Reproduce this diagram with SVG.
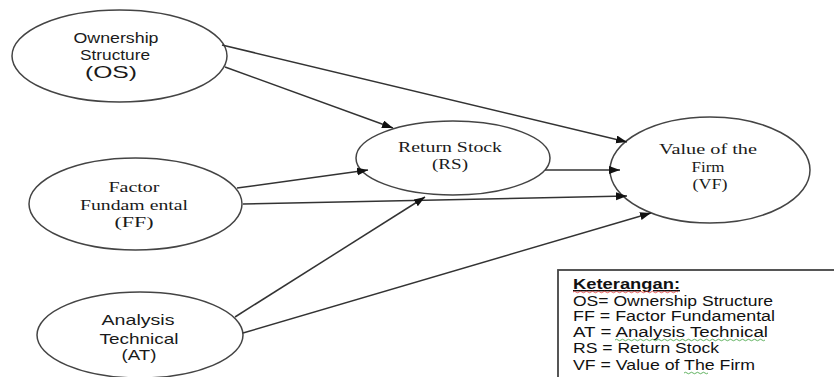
<svg xmlns="http://www.w3.org/2000/svg" width="834" height="377" viewBox="0 0 834 377">
  <style>
    .node { fill: #ffffff; stroke: #444; stroke-width: 1.5; }
    .sans { font-family: "Liberation Sans", Arial, sans-serif; fill: #1a1a1a; }
    .serif { font-family: "Liberation Serif", "Times New Roman", serif; fill: #1a1a1a; }
    .edge { stroke: #333; stroke-width: 1.5; fill: none; marker-end: url(#arrow); }
    .legend { font-family: "Liberation Sans", Arial, sans-serif; fill: #111; font-size: 14px; }
  </style>
  <defs>
    <marker id="arrow" markerUnits="userSpaceOnUse" markerWidth="12" markerHeight="9" refX="11" refY="4" orient="auto">
      <path d="M0,0 L11,4 L0,8 z" fill="#111"/>
    </marker>
  </defs>
  <rect width="834" height="377" fill="#ffffff"/>

  <g id="node-os">
    <ellipse class="node" cx="119.5" cy="56" rx="107.5" ry="46"/>
    <text class="sans" font-size="15" text-anchor="middle" x="116" y="43" textLength="85" lengthAdjust="spacingAndGlyphs">Ownership</text>
    <text class="sans" font-size="15" text-anchor="middle" x="115" y="60" textLength="70" lengthAdjust="spacingAndGlyphs">Structure</text>
    <text class="sans" font-size="17" text-anchor="middle" x="111" y="78" textLength="52" lengthAdjust="spacingAndGlyphs">(OS)</text>
  </g>

  <g id="node-ff">
    <ellipse class="node" cx="135.5" cy="204" rx="106.5" ry="46"/>
    <text class="serif" font-size="15" text-anchor="middle" x="134" y="192" textLength="51" lengthAdjust="spacingAndGlyphs">Factor</text>
    <text class="serif" font-size="15" text-anchor="middle" x="134" y="210" textLength="108" lengthAdjust="spacingAndGlyphs">Fundam ental</text>
    <text class="serif" font-size="15" text-anchor="middle" x="134" y="227" textLength="39" lengthAdjust="spacingAndGlyphs">(FF)</text>
  </g>

  <g id="node-at">
    <ellipse class="node" cx="140" cy="335" rx="103" ry="43"/>
    <text class="sans" font-size="15" text-anchor="middle" x="138" y="325" textLength="73" lengthAdjust="spacingAndGlyphs">Analysis</text>
    <text class="sans" font-size="15" text-anchor="middle" x="139" y="344" textLength="79" lengthAdjust="spacingAndGlyphs">Technical</text>
    <text class="sans" font-size="15" text-anchor="middle" x="139" y="360" textLength="35" lengthAdjust="spacingAndGlyphs">(AT)</text>
  </g>

  <g id="node-rs">
    <ellipse class="node" cx="453" cy="158" rx="97" ry="37"/>
    <text class="serif" font-size="15" text-anchor="middle" x="450" y="152" textLength="104" lengthAdjust="spacingAndGlyphs">Return Stock</text>
    <text class="serif" font-size="15" text-anchor="middle" x="450" y="169" textLength="36" lengthAdjust="spacingAndGlyphs">(RS)</text>
  </g>

  <g id="node-vf">
    <ellipse class="node" cx="710" cy="170" rx="100" ry="53"/>
    <text class="serif" font-size="15" text-anchor="middle" x="708" y="154" textLength="98" lengthAdjust="spacingAndGlyphs">Value of the</text>
    <text class="serif" font-size="15" text-anchor="middle" x="708" y="172" textLength="33" lengthAdjust="spacingAndGlyphs">Firm</text>
    <text class="serif" font-size="15" text-anchor="middle" x="710" y="189" textLength="35" lengthAdjust="spacingAndGlyphs">(VF)</text>
  </g>

  <g id="connectors">
    <path class="edge" d="M222,45 L627,142"/>
    <path class="edge" d="M225,67 L393,128"/>
    <path class="edge" d="M237,188 L368,170"/>
    <path class="edge" d="M243,204 L627,196"/>
    <path class="edge" d="M545,170 L620,170"/>
    <path class="edge" d="M235,317 L425,197"/>
    <path class="edge" d="M243,333 L651,213"/>
  </g>

  <g id="legend">
    <rect x="558" y="270" width="290" height="120" fill="#ffffff" stroke="#444" stroke-width="1.8"/>
    <text class="legend" font-weight="bold" x="573" y="289" textLength="107" lengthAdjust="spacingAndGlyphs" text-decoration="underline">Keterangan:</text>
    <text class="legend" x="573" y="306" textLength="200" lengthAdjust="spacingAndGlyphs">OS= Ownership Structure</text>
    <text class="legend" x="573" y="321" textLength="202" lengthAdjust="spacingAndGlyphs">FF = Factor Fundamental</text>
    <text class="legend" x="573" y="337" textLength="195" lengthAdjust="spacingAndGlyphs">AT = Analysis Technical</text>
    <text class="legend" x="573" y="353" textLength="146" lengthAdjust="spacingAndGlyphs">RS = Return Stock</text>
    <text class="legend" x="573" y="370" textLength="182" lengthAdjust="spacingAndGlyphs">VF = Value of The Firm</text>
    <path d="M573,292 q1.5,-1.5 3,0 t3,0 t3,0 t3,0 t3,0 t3,0 t3,0 t3,0 t3,0 t3,0 t3,0 t3,0 t3,0 t3,0 t3,0 t3,0 t3,0 t3,0 t3,0 t3,0 t3,0 t3,0 t3,0 t3,0 t3,0 t3,0 t3,0 t3,0 t3,0 t3,0 t3,0 t3,0 t3,0 t3,0 t3,0" fill="none" stroke="#e03030" stroke-width="0.8"/>
    <path d="M615,340 q1.5,-1.5 3,0 t3,0 t3,0 t3,0 t3,0 t3,0 t3,0 t3,0 t3,0 t3,0 t3,0 t3,0 t3,0 t3,0 t3,0 t3,0 t3,0 t3,0 t3,0 t3,0 t3,0 t3,0 t3,0 t3,0 t3,0 t3,0 t3,0 t3,0 t3,0 t3,0 t3,0 t3,0 t3,0 t3,0 t3,0 t3,0 t3,0 t3,0 t3,0 t3,0 t3,0 t3,0 t3,0 t3,0 t3,0 t3,0 t3,0 t3,0 t3,0 t3,0" fill="none" stroke="#3aa03a" stroke-width="0.8"/>
    <path d="M684,373 q1.5,-1.5 3,0 t3,0 t3,0 t3,0 t3,0 t3,0 t3,0 t3,0" fill="none" stroke="#3aa03a" stroke-width="0.8"/>
  </g>
</svg>
